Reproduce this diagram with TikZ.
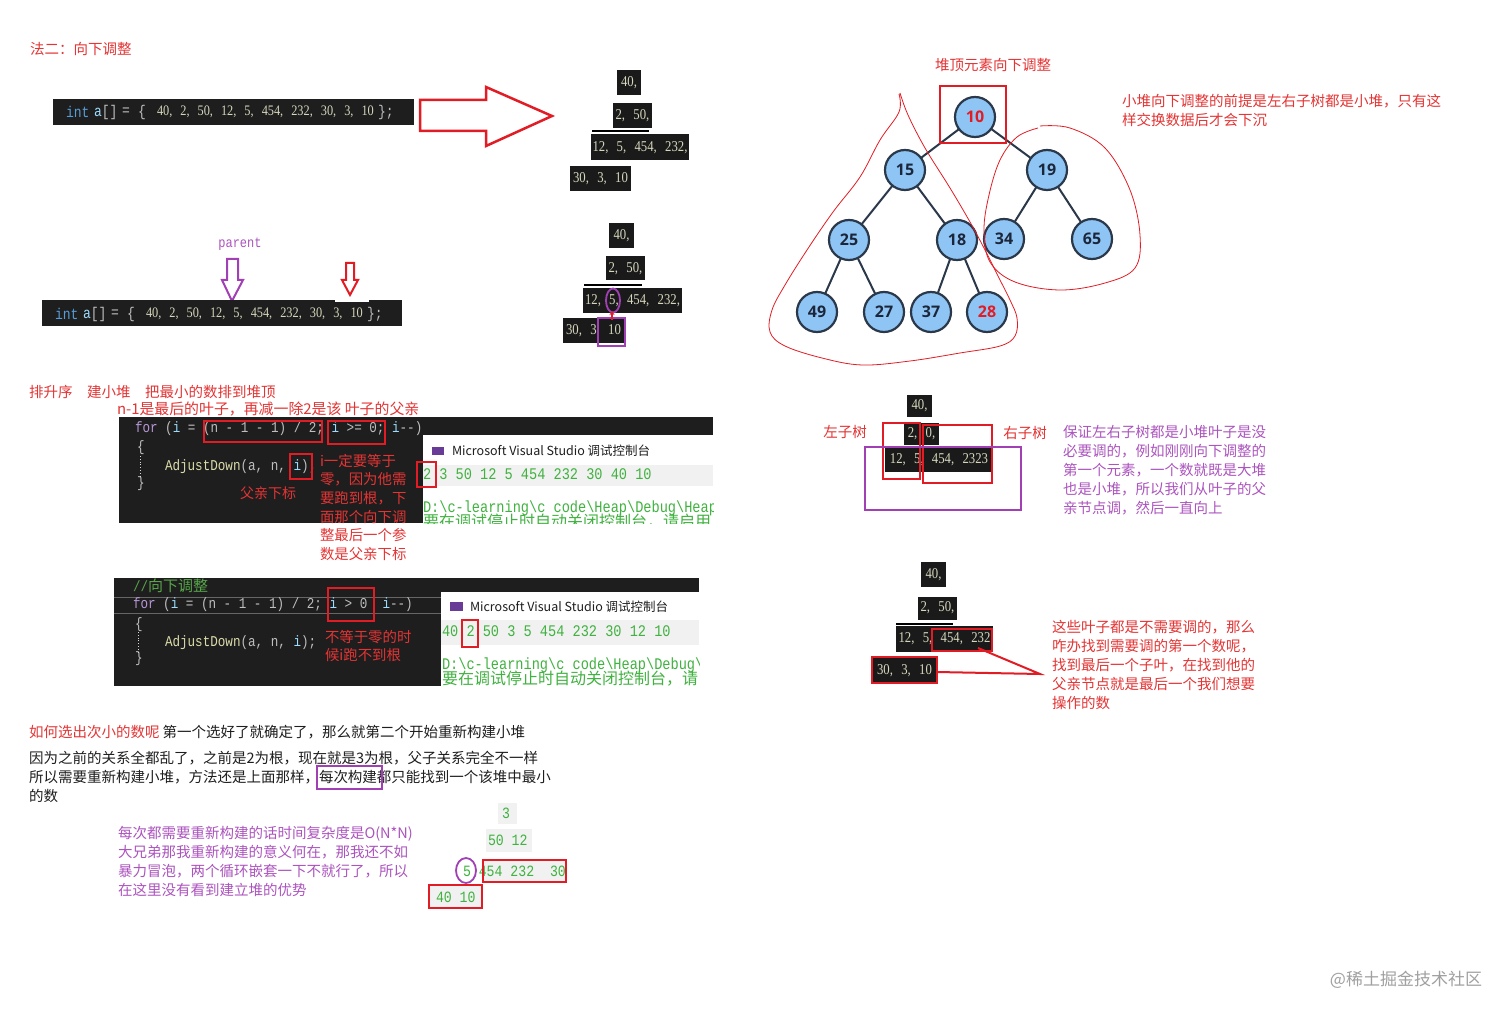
\documentclass[tikz,border=0pt]{standalone}
\usepackage{fontspec}
\usetikzlibrary{arrows.meta}
\setmainfont{Noto Sans CJK SC}
\newfontfamily\cjk{Noto Sans CJK SC}
\newfontfamily\codef{Liberation Mono}[FakeStretch=0.84]
\newfontfamily\stkf{Liberation Serif}[FakeStretch=0.85,WordSpace={2.6,0,0}]
\newfontfamily\treef{Open Sans}
\newcommand\fsz[1]{\fontsize{#1}{#1}\selectfont}
\definecolor{tred}{RGB}{228,52,52}
\definecolor{tpur}{RGB}{172,84,190}
\definecolor{bred}{RGB}{226,28,36}
\definecolor{bpur}{RGB}{160,64,180}
\definecolor{tblk}{RGB}{30,30,30}
\definecolor{codebg}{RGB}{30,30,30}
\definecolor{stkbg}{RGB}{26,26,26}
\definecolor{stktxt}{RGB}{214,214,188}
\definecolor{ckw}{RGB}{86,156,214}
\definecolor{cfor}{RGB}{184,150,214}
\definecolor{cvar}{RGB}{156,220,254}
\definecolor{cop}{RGB}{190,190,190}
\definecolor{cfn}{RGB}{220,220,170}
\definecolor{ccom}{RGB}{87,166,74}
\definecolor{cgreen}{RGB}{64,178,64}
\definecolor{band}{RGB}{241,241,241}
\definecolor{nfill}{RGB}{142,197,245}
\definecolor{nline}{RGB}{42,56,74}
\definecolor{ntext}{RGB}{28,38,58}
\definecolor{wm}{RGB}{160,160,160}
\definecolor{icon}{RGB}{104,60,150}
\begin{document}
\begin{tikzpicture}[x=1pt,y=-1pt,
  every node/.style={inner sep=0pt,outer sep=0pt},
  ct/.style={anchor=west,font=\cjk\fsz{14.5}},
  redt/.style={ct,text=tred},
  purt/.style={ct,text=tpur},
  blkt/.style={ct,text=tblk},
  rbox/.style={draw=bred,line width=2pt},
  pbox/.style={draw=bpur,line width=2pt},
  stk/.style={fill=stkbg,text=stktxt,font=\stkf\fsz{15}},
  code/.style={anchor=west,font=\codef\fsz{15},text=cop},
  tok/.style={anchor=west,font=\codef\fsz{15.5},text=cop},
  cons/.style={anchor=west,font=\codef\fsz{16.2},text=cgreen},
  gnum/.style={anchor=west,font=\codef\fsz{15.7},text=cgreen},
  tn/.style={circle,draw=nline,line width=2.2pt,fill=nfill,minimum size=40pt,font=\treef\bfseries\fsz{16},text=ntext},
  hand/.style={draw=bred,line width=0.8pt},
  ctitle/.style={anchor=west,font=\cjk\fsz{12.5},text=tblk}
]
\fill[white] (0,0) rectangle (1512,1016);
\useasboundingbox (0,0) rectangle (1512,1016);

% ---------- heading ----------
\node[redt] (h1) at (30,49) {法二：向下调整};

% ---------- code box 1 ----------
\fill[codebg] (53,99) rectangle (414,125);
\node[tok,text=ckw] (b1int) at (66,112) {int};
\node[tok,text=cvar] (b1a) at (94,112) {a\textcolor{cop}{[]}};
\node[tok] (b1eq) at (122,112) {=};
\node[tok] (b1br) at (138,112) {\{};
\node[anchor=west,font=\stkf\fsz{14.5},text=stktxt] (b1n) at (157,112) {40, 2, 50, 12, 5, 454, 232, 30, 3, 10};
\node[tok] (b1end) at (378,112) {\};};

% big hollow arrow
\draw[bred,line width=2.5pt] (420,100) -- (486,100) -- (486,87) -- (552,116) -- (486,146) -- (486,131) -- (420,131) -- cycle;

% ---------- stack 1 ----------
\node[stk,minimum width=24pt,minimum height=25pt] (s11) at (629,83) {40,};
\node[stk,minimum width=39pt,minimum height=25pt] (s12) at (632.5,116) {2, 50,};
\draw[line width=1.5pt] (592,131) -- (649,131);
\node[stk,minimum width=98pt,minimum height=26pt] (s13) at (640,147.5) {12, 5, 454, 232,};
\node[stk,minimum width=61pt,minimum height=25pt] (s14) at (600.5,178.5) {30, 3, 10};

% ---------- stack 2 ----------
\node[stk,minimum width=25pt,minimum height=25pt] (s21) at (621.5,235.5) {40,};
\node[stk,minimum width=39pt,minimum height=24pt] (s22) at (625.5,268.5) {2, 50,};
\draw[line width=1.5pt] (584,285) -- (642,285);
\node[stk,minimum width=99pt,minimum height=25pt] (s23) at (632.5,300.5) {12, 5, 454, 232,};
\node[stk,minimum width=61pt,minimum height=25pt] (s24) at (593.5,330.5) {30, 3, 10};
\draw[bpur,line width=1.8pt] (613,300.5) ellipse [x radius=7, y radius=12];
\draw[bpur,line width=1.8pt] (598,318) rectangle (625,346);
\coordinate (ar1) at (612,320);
\coordinate (ar2) at (612,311);
\draw[bred,line width=1.5pt,-{Stealth[length=4pt,width=5pt]}] (ar1) -- (ar2);

% ---------- code box 2 ----------
\node[font=\codef\fsz{14.3},text=tpur] (par) at (240,244) {parent};
\draw[bpur,line width=2pt] (227,259) -- (238,259) -- (238,280) -- (243,280) -- (232,301) -- (222,280) -- (227,280) -- cycle;
\draw[bred,line width=2pt] (346,263) -- (354,263) -- (354,280) -- (358,280) -- (350,295) -- (342,280) -- (346,280) -- cycle;
\fill[codebg] (42,300) rectangle (402,326);
\fill[white] (335,297) rectangle (369,302);
\node[tok,text=ckw] (b2int) at (55,314) {int};
\node[tok,text=cvar] (b2a) at (83,314) {a\textcolor{cop}{[]}};
\node[tok] (b2eq) at (111,314) {=};
\node[tok] (b2br) at (127,314) {\{};
\node[anchor=west,font=\stkf\fsz{14.5},text=stktxt] (b2n) at (146,314) {40, 2, 50, 12, 5, 454, 232, 30, 3, 10};
\node[tok] (b2end) at (367,314) {\};};

% ---------- section 3 ----------
\node[redt] (t1) at (29,392) {排升序\hspace{1em}建小堆\hspace{1em}把最小的数排到堆顶};
\node[redt,font=\cjk\fsz{14.9}] (t2) at (117,409) {n-1是最后的叶子，再减一除2是该 叶子的父亲};

\fill[codebg] (119,417) rectangle (713,523);
\node[code] (k1) at (135,429) {\color{cfor}for \color{cop}(\color{cvar}i \color{cop}= (n - 1 - 1) / 2; \color{cvar}i \color{cop}>= 0; \color{cvar}i\color{cop}-{}-)};
\node[code] (k2) at (137,448) {\{};
\node[code] (k3) at (165,467) {\color{cfn}AdjustDown\color{cop}(a, n, \color{cvar}i\color{cop});};
\node[code] (k4) at (137,484) {\}};
\draw[cop!60,dotted,line width=0.8pt] (140,456) -- (140,477);

\fill[white] (423,435) rectangle (713,523);
\fill[band] (423,465) rectangle (713,486);
\fill[icon] (432,447) rectangle (444,455);
\node[ctitle] (ct1) at (452,451) {Microsoft Visual Studio 调试控制台};
\node[cons] (cn1) at (423,474) {2 3 50 12 5 454 232 30 40 10};
\begin{scope}
\clip (423,435) rectangle (713,523);
\node[cons] (cd1) at (423,508) {D:\textbackslash c-learning\textbackslash c code\textbackslash Heap\textbackslash Debug\textbackslash Heap};
\node[anchor=west,font=\cjk\fsz{16},text=cgreen] (cz1) at (423,522) {要在调试停止时自动关闭控制台，请启用};
\end{scope}

\draw[rbox] (204,421) rectangle (322,442);
\draw[rbox] (328,421) rectangle (385,444);
\draw[rbox] (290,454) rectangle (312,479);
\draw[rbox] (417,462) rectangle (436,487);

\node[redt,anchor=center,font=\cjk\fsz{14}] (fq) at (268,493) {父亲下标};
\foreach \t [count=\k from 0] in {i一定要等于,零，因为他需,要跑到根，下,面那个向下调,整最后一个参,数是父亲下标}
  \node[redt,font=\cjk\fsz{14.4}] (rc\k) at (320,{461+18.6*\k}) {\t};

% ---------- section 4 ----------
\fill[codebg] (114,578) rectangle (699,686);
\draw[black!60,line width=1pt] (114,597) -- (441,597);
\draw[black!60,line width=1pt] (114,613) -- (441,613);
\node[code,text=ccom] (m0) at (133,586) {//{\cjk\fsz{15}向下调整}};
\node[code] (m1) at (133,605) {\color{cfor}for \color{cop}(\color{cvar}i \color{cop}= (n - 1 - 1) / 2; \color{cvar}i \color{cop}> 0\ \ \color{cvar}i\color{cop}-{}-)};
\node[code] (m2) at (135,625) {\{};
\node[code] (m3) at (165,643) {\color{cfn}AdjustDown\color{cop}(a, n, \color{cvar}i\color{cop});};
\node[code] (m4) at (135,659) {\}};
\draw[cop!60,dotted,line width=0.8pt] (138,632) -- (138,652);
\draw[rbox] (328,588) rectangle (374,621);
\node[redt,font=\cjk\fsz{14.4}] (n1) at (325,637) {不等于零的时};
\node[redt,font=\cjk\fsz{14.4}] (n2) at (325,655) {候i跑不到根};

\fill[white] (441,592) rectangle (699,686);
\fill[band] (441,620) rectangle (699,645);
\fill[icon] (450,602) rectangle (463,611);
\node[ctitle] (ct2) at (470,607) {Microsoft Visual Studio 调试控制台};
\node[cons] (cn2) at (442,631) {40 2 50 3 5 454 232 30 12 10};
\begin{scope}
\clip (441,592) rectangle (699,686);
\node[cons] (cd2) at (442,665) {D:\textbackslash c-learning\textbackslash c code\textbackslash Heap\textbackslash Debug\textbackslash};
\node[anchor=west,font=\cjk\fsz{16},text=cgreen] (cz2) at (442,679) {要在调试停止时自动关闭控制台，请};
\end{scope}
\draw[rbox] (462,620) rectangle (478,647);

% ---------- lower text ----------
\node[blkt] (p1) at (29,732) {\textcolor{tred}{如何选出次小的数呢} 第一个选好了就确定了，那么就第二个开始重新构建小堆};
\node[blkt] (p2) at (29,758) {因为之前的关系全都乱了，之前是2为根，现在就是3为根，父子关系完全不一样};
\node[blkt] (p3) at (29,777) {所以需要重新构建小堆，方法还是上面那样，每次构建都只能找到一个该堆中最小};
\node[blkt] (p4) at (29,796) {的数};
\draw[pbox] (317,766) rectangle (382,789);

\node[purt] (q1) at (118,834) {每次都需要重新构建的话时间复杂度是O(N*N)};
\node[purt] (q2) at (118,852) {大兄弟那我重新构建的意义何在，那我还不如};
\node[purt] (q3) at (118,871) {暴力冒泡，两个循环嵌套一下不就行了，所以};
\node[purt] (q4) at (118,890) {在这里没有看到建立堆的优势};

\fill[band] (498,803) rectangle (517,824);
\fill[band] (486,829) rectangle (532,852);
\fill[band] (483,860) rectangle (566,882);
\fill[band] (429,885) rectangle (482,908);
\node[gnum] (g1) at (502,813) {3};
\node[gnum] (g2) at (488,840) {50 12};
\node[gnum] (g3) at (463,871) {5 454 232\ \ 30};
\node[gnum] (g4) at (436,897) {40 10};
\draw[bpur,line width=1.8pt] (466,870.5) ellipse [x radius=10, y radius=12.5];
\draw[rbox] (483,860) rectangle (566,882);
\draw[rbox] (429,885) rectangle (482,908);

% ---------- tree ----------
\node[redt,anchor=center] (tt) at (993,65) {堆顶元素向下调整};
\node[redt] (tr1) at (1122,101) {小堆向下调整的前提是左右子树都是小堆，只有这};
\node[redt] (tr2) at (1122,120) {样交换数据后才会下沉};

\node[tn,text=bred] (n10) at (975,117) {10};
\node[tn] (n15) at (905,170) {15};
\node[tn] (n19) at (1047,170) {19};
\node[tn] (n25) at (849,240) {25};
\node[tn] (n18) at (957,240) {18};
\node[tn] (n34) at (1004,239) {34};
\node[tn] (n65) at (1092,239) {65};
\node[tn] (n49) at (817,312) {49};
\node[tn] (n27) at (884,312) {27};
\node[tn] (n37) at (931,312) {37};
\node[tn,text=bred] (n28) at (987,312) {28};
\foreach \a/\b in {n10/n15,n10/n19,n15/n25,n15/n18,n19/n34,n19/n65,n25/n49,n25/n27,n18/n37,n18/n28}
  \draw[nline,line width=2pt] (\a) -- (\b);
\draw[rbox] (940,86) rectangle (1006,143);

\draw[hand] plot[smooth,tension=0.6] coordinates {(899,94) (899,112) (880,140) (860,177) (833,212) (807,250) (785,285) (772,310) (770,332) (785,346) (822,358) (862,365) (910,361) (960,353) (1000,346) (1015,336) (1017,318) (1010,300) (999,278) (985,250) (970,222) (950,188) (925,148) (908,115) (900,93)};
\draw[hand] plot[smooth,tension=0.6] coordinates {(1038,128) (1017,137) (1000,160) (989,195) (984,230) (990,262) (1015,282) (1060,290) (1105,283) (1135,268) (1140,235) (1130,190) (1105,148) (1070,128) (1040,126)};

% ---------- middle right ----------
\node[stk,minimum width=25pt,minimum height=22pt] (s31) at (919.5,406) {40,};
\node[stk,minimum width=35pt,minimum height=22pt] (s32) at (921.5,434) {2, 0,};
\node[stk,minimum width=108pt,minimum height=24pt] (s33) at (939,460) {12, 5, 454, 2323};
\draw[rbox] (883,423) rectangle (920,479);
\draw[rbox] (923,425) rectangle (992,483);
\draw[pbox] (865,447) rectangle (1021,510);
\node[redt,anchor=center] (lz) at (845,432) {左子树};
\node[redt,anchor=center] (rz) at (1025,433) {右子树};
\node[purt] (u1) at (1063,432) {保证左右子树都是小堆叶子是没};
\node[purt] (u2) at (1063,451) {必要调的，例如刚刚向下调整的};
\node[purt] (u3) at (1063,470) {第一个元素，一个数就既是大堆};
\node[purt] (u4) at (1063,489) {也是小堆，所以我们从叶子的父};
\node[purt] (u5) at (1063,508) {亲节点调，然后一直向上};

% ---------- bottom right ----------
\node[stk,minimum width=25pt,minimum height=25pt] (s41) at (933.5,574.5) {40,};
\node[stk,minimum width=39pt,minimum height=23pt] (s42) at (937.5,608) {2, 50,};
\draw[line width=1.5pt] (896,624) -- (953,624);
\node[stk,minimum width=97pt,minimum height=26pt] (s43) at (944.5,639) {12, 5, 454, 232};
\node[stk,minimum width=63pt,minimum height=25pt] (s44) at (904.5,670.5) {30, 3, 10};
\draw[rbox] (932,629) rectangle (992,651);
\draw[rbox] (872,657) rectangle (937,683);
\coordinate (pt) at (1040,674);
\coordinate (pa) at (978,648);
\coordinate (pb) at (937,672);
\draw[bred,line width=2pt] (pa) -- (pt) -- (pb);
\node[redt] (v1) at (1052,627) {这些叶子都是不需要调的，那么};
\node[redt] (v2) at (1052,646) {咋办找到需要调的第一个数呢，};
\node[redt] (v3) at (1052,665) {找到最后一个子叶，在找到他的};
\node[redt] (v4) at (1052,684) {父亲节点就是最后一个我们想要};
\node[redt] (v5) at (1052,703) {操作的数};

% ---------- watermark ----------
\node[font=\cjk\fsz{17},text=wm] (wmk) at (1406,980) {@稀土掘金技术社区};
\end{tikzpicture}
\end{document}
